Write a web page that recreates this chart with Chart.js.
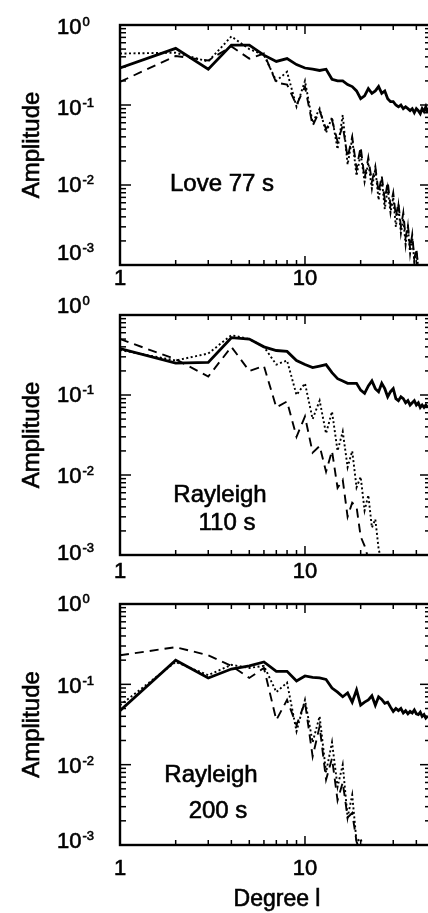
<!DOCTYPE html>
<html>
<head>
<meta charset="utf-8">
<script src="https://cdn.jsdelivr.net/npm/chart.js@4"></script>
<style>
  html, body { margin: 0; padding: 0; background: #fff; overflow: hidden; width: 428px; height: 913px; }
  canvas { position: absolute; left: 0; }
</style>
</head>
<body>
<canvas id="panelLove77" width="434" height="292" style="top:0px"></canvas>
<canvas id="panelRay110" width="434" height="293" style="top:292px"></canvas>
<canvas id="panelRay200" width="434" height="328" style="top:585px"></canvas>
<script>
// degree l
const DEGREES = [1, 2, 3, 4, 5, 6, 7, 8, 9, 10, 11, 12, 13, 14, 15, 16, 17, 18, 19, 20,
  21, 22, 23, 24, 25, 26, 27, 28, 29, 30, 31, 32, 33, 34, 35, 36, 37, 38, 39, 40,
  41, 42, 43, 44, 45, 46];

// Love 77 s
const LOVE77_SOLID = [0.29, 0.51, 0.28, 0.56, 0.56, 0.42, 0.35, 0.38, 0.32, 0.29,
  0.28, 0.27, 0.28, 0.21, 0.2, 0.2, 0.18, 0.17, 0.15, 0.12,
  0.13, 0.16, 0.14, 0.15, 0.17, 0.14, 0.15, 0.12, 0.11, 0.11,
  0.1, 0.095, 0.1, 0.09, 0.095, 0.09, 0.085, 0.09, 0.08, 0.09,
  0.085, 0.078, 0.09, 0.083, 0.095, 0.08];
const LOVE77_DOTTED = [0.44, 0.45, 0.35, 0.72, 0.5, 0.42, 0.2, 0.26, 0.095, 0.2,
  0.06, 0.09, 0.045, 0.07, 0.028, 0.075, 0.018, 0.038, 0.013, 0.025,
  0.011, 0.019, 0.009, 0.016, 0.0065, 0.012, 0.005, 0.009, 0.0045, 0.007,
  0.003, 0.0055, 0.0025, 0.0038, 0.0018, 0.003, 0.0014, 0.0022, 0.0011, 0.0015,
  0.0009];
const LOVE77_DASHED = [0.195, 0.41, 0.36, 0.54, 0.38, 0.44, 0.19, 0.18, 0.1, 0.17,
  0.055, 0.085, 0.05, 0.065, 0.035, 0.055, 0.022, 0.04, 0.016, 0.03,
  0.012, 0.022, 0.011, 0.017, 0.008, 0.013, 0.0065, 0.011, 0.0055, 0.008,
  0.004, 0.006, 0.003, 0.0045, 0.0022, 0.0032, 0.0016, 0.0024, 0.0012, 0.0016,
  0.0009];

// Rayleigh 110 s
const RAY110_SOLID = [0.38, 0.25, 0.255, 0.52, 0.5, 0.4, 0.36, 0.35, 0.27, 0.24,
  0.22, 0.23, 0.24, 0.19, 0.16, 0.15, 0.14, 0.14, 0.14, 0.115,
  0.105, 0.13, 0.15, 0.12, 0.11, 0.14, 0.12, 0.095, 0.11, 0.12,
  0.09, 0.085, 0.095, 0.09, 0.08, 0.085, 0.075, 0.08, 0.085, 0.075,
  0.08, 0.07, 0.075, 0.07, 0.075, 0.07];
const RAY110_DOTTED = [0.365, 0.27, 0.33, 0.56, 0.5, 0.4, 0.24, 0.27, 0.1, 0.14,
  0.05, 0.085, 0.033, 0.062, 0.02, 0.035, 0.0125, 0.02, 0.007, 0.0095,
  0.0036, 0.0056, 0.0022, 0.0028, 0.0012, 0.0008];
const RAY110_DASHED = [0.5, 0.28, 0.17, 0.4, 0.2, 0.23, 0.07, 0.083, 0.03, 0.054,
  0.019, 0.023, 0.011, 0.02, 0.0069, 0.0087, 0.003, 0.0045, 0.004, 0.0017,
  0.0013, 0.0009, 0.0007];

// Rayleigh 200 s
const RAY200_SOLID = [0.047, 0.2, 0.12, 0.155, 0.17, 0.19, 0.145, 0.145, 0.11, 0.127,
  0.122, 0.12, 0.115, 0.09, 0.08, 0.07, 0.078, 0.06, 0.085, 0.055,
  0.06, 0.064, 0.072, 0.055, 0.07, 0.065, 0.058, 0.06, 0.052, 0.046,
  0.05, 0.047, 0.05, 0.044, 0.047, 0.043, 0.046, 0.044, 0.048, 0.043,
  0.042, 0.045, 0.04, 0.042, 0.038, 0.04];
const RAY200_DOTTED = [0.055, 0.19, 0.13, 0.175, 0.16, 0.17, 0.08, 0.105, 0.026, 0.064,
  0.019, 0.04, 0.008, 0.019, 0.0053, 0.01, 0.0022, 0.0042, 0.0011, 0.0012,
  0.0008];
const RAY200_DASHED = [0.23, 0.29, 0.23, 0.17, 0.12, 0.16, 0.036, 0.064, 0.031, 0.06,
  0.0126, 0.03, 0.0065, 0.012, 0.0036, 0.006, 0.0022, 0.0025, 0.0011, 0.0008];

// axis ranges and tick labels
const X_MIN = 1, X_MAX = 48;
const Y_MIN = 0.001, Y_MAX = 1;
const Y_LABELS = [{ v: 1, exp: '0' }, { v: 0.1, exp: '-1' }, { v: 0.01, exp: '-2' }, { v: 0.001, exp: '-3' }];
const X_LABELS = [{ v: 1, text: '1' }, { v: 10, text: '10' }];

const FONT = '"Liberation Sans", Arial, Helvetica, sans-serif';

function toPoints(vals) {
  return vals.map((v, i) => ({ x: DEGREES[i], y: v }));
}

// text a bit heavier, like the scanned Helvetica
function heavyText(ctx, s, x, y) {
  ctx.fillText(s, x, y);
  ctx.lineWidth = 0.6;
  ctx.strokeText(s, x, y);
}

// frame, inward ticks and labels, drawn from the scales
const frameTicks = {
  id: 'frameTicks',
  afterDraw(chart, args, o) {
    const ctx = chart.ctx;
    const a = chart.chartArea;
    const xs = chart.scales.x, ys = chart.scales.y;
    const line = (x1, y1, x2, y2) => { ctx.beginPath(); ctx.moveTo(x1, y1); ctx.lineTo(x2, y2); ctx.stroke(); };
    ctx.save();
    ctx.strokeStyle = '#000';
    ctx.lineWidth = 1.5;
    // y ticks (left + right)
    for (let d = -3; d <= 0; d++) {
      for (let k = 1; k <= 9; k++) {
        const v = k * Math.pow(10, d);
        if (v > Y_MAX * 1.0001) break;
        const py = ys.getPixelForValue(v);
        const len = k === 1 ? 11 : 6;
        line(a.left, py, a.left + len, py);
        line(a.right, py, a.right - len, py);
      }
    }
    // x ticks (top + bottom)
    for (let d = 0; d <= 1; d++) {
      for (let k = 1; k <= 9; k++) {
        const v = k * Math.pow(10, d);
        if (v > X_MAX) break;
        const px = xs.getPixelForValue(v);
        const len = k === 1 ? 9 : 5;
        line(px, a.top, px, a.top + len);
        line(px, a.bottom, px, a.bottom - len);
      }
    }
    ctx.lineWidth = 2.4;
    ctx.strokeRect(a.left, a.top, a.right - a.left, a.bottom - a.top);

    ctx.fillStyle = '#000';
    ctx.textBaseline = 'alphabetic';
    // y tick labels 10^n
    Y_LABELS.forEach((t, i) => {
      const py = ys.getPixelForValue(t.v) + o.yLabDy[i];
      ctx.font = '22px ' + FONT;
      ctx.textAlign = 'left';
      heavyText(ctx, '10', 57, py);
      const w = ctx.measureText('10').width;
      ctx.font = '13px ' + FONT;
      heavyText(ctx, t.exp, 57 + w + 1, py - 8);
    });
    // x tick labels
    ctx.font = '22px ' + FONT;
    ctx.textAlign = 'center';
    X_LABELS.forEach(t => {
      heavyText(ctx, t.text, xs.getPixelForValue(t.v), a.bottom + o.xLabDy);
    });
    // y title
    ctx.save();
    ctx.font = '24px ' + FONT;
    ctx.translate(39, (a.top + a.bottom) / 2);
    ctx.rotate(-Math.PI / 2);
    ctx.textAlign = 'center';
    heavyText(ctx, 'Amplitude', 0, 0);
    ctx.restore();
    // panel annotation
    ctx.font = '24px ' + FONT;
    o.notes.forEach(n => {
      ctx.textAlign = n.align;
      heavyText(ctx, n.text, n.x, n.y - o.top);
    });
    if (o.xTitle) {
      ctx.font = '23px ' + FONT;
      ctx.textAlign = 'center';
      heavyText(ctx, o.xTitle, 277, 906 - o.top);
    }
    ctx.restore();
  }
};

function makePanel(id, solid, dotted, dashed, p) {
  new Chart(document.getElementById(id), {
    type: 'line',
    data: {
      datasets: [
        { data: toPoints(solid), borderColor: '#000', borderWidth: 2.8 },
        { data: toPoints(dotted), borderColor: '#000', borderWidth: 1.9, borderDash: [2, 2.5] },
        { data: toPoints(dashed), borderColor: '#000', borderWidth: 1.9, borderDash: [9, 6] }
      ]
    },
    options: {
      responsive: false,
      animation: false,
      devicePixelRatio: 1,
      layout: { padding: { left: 120, right: 3, top: p.areaTop - p.top, bottom: p.canvasH - (p.areaBottom - p.top) } },
      elements: { point: { radius: 0 }, line: { tension: 0, borderCapStyle: 'butt', borderJoinStyle: 'miter' } },
      scales: {
        x: { type: 'logarithmic', min: X_MIN, max: X_MAX, display: false },
        y: { type: 'logarithmic', min: Y_MIN, max: Y_MAX, display: false }
      },
      plugins: {
        legend: { display: false },
        tooltip: { enabled: false },
        frameTicks: p
      }
    },
    plugins: [frameTicks]
  });
}

makePanel('panelLove77', LOVE77_SOLID, LOVE77_DOTTED, LOVE77_DASHED, {
  top: 0, canvasH: 292, areaTop: 25, areaBottom: 265,
  yLabDy: [9, 10, 7, -5], xLabDy: 20,
  notes: [{ text: 'Love 77 s', x: 170, y: 191, align: 'left' }]
});
makePanel('panelRay110', RAY110_SOLID, RAY110_DOTTED, RAY110_DASHED, {
  top: 292, canvasH: 293, areaTop: 315, areaBottom: 555,
  yLabDy: [-2, 7, 8, 5], xLabDy: 23,
  notes: [{ text: 'Rayleigh', x: 220, y: 502, align: 'center' },
          { text: '110 s', x: 227, y: 530, align: 'center' }]
});
makePanel('panelRay200', RAY200_SOLID, RAY200_DOTTED, RAY200_DASHED, {
  top: 585, canvasH: 328, areaTop: 604, areaBottom: 845,
  yLabDy: [7, 9, 8, 3], xLabDy: 30,
  notes: [{ text: 'Rayleigh', x: 211, y: 782, align: 'center' },
          { text: '200 s', x: 218, y: 818, align: 'center' }],
  xTitle: 'Degree l'
});
</script>
</body>
</html>
